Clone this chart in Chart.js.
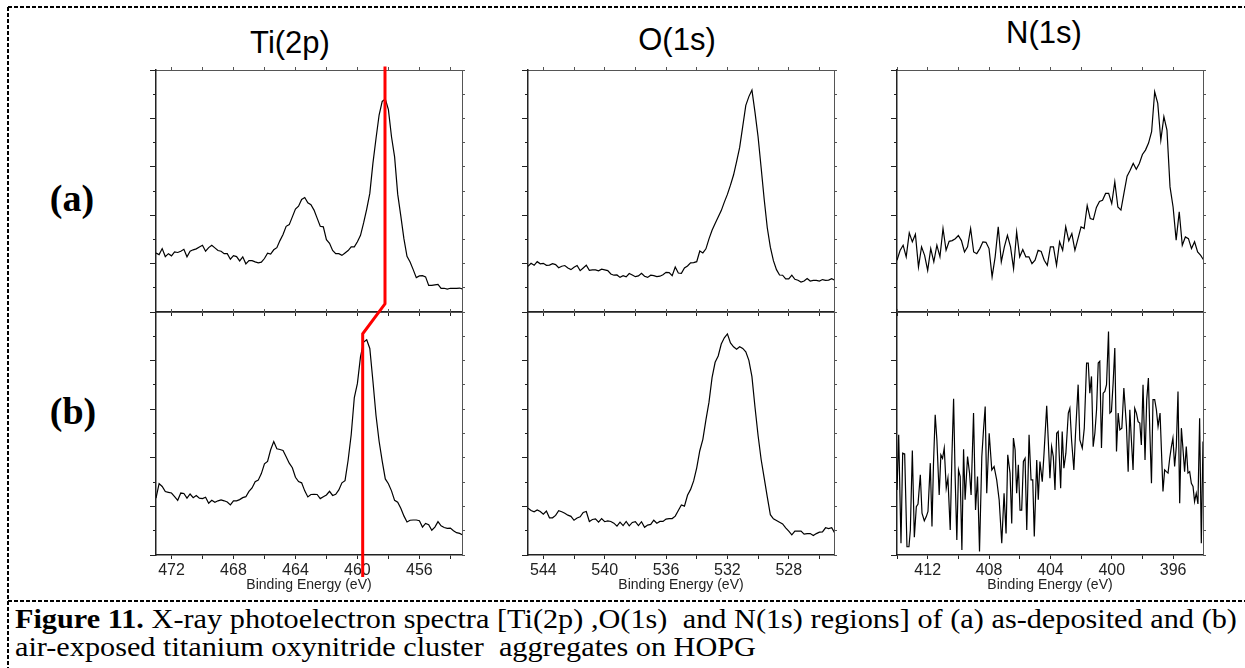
<!DOCTYPE html>
<html>
<head>
<meta charset="utf-8">
<script src="https://cdn.jsdelivr.net/npm/chart.js@4.4.1/dist/chart.umd.min.js"></script>
<style>
  body { margin: 0; width: 1245px; height: 668px; background: #fff; position: relative; overflow: hidden; font-family: "Liberation Sans", Arial, sans-serif; }
  .pane { position: absolute; }
  .ttl { position: absolute; font-size: 31px; color: #000; transform: translate(-50%, -50%); white-space: nowrap; }
  .lab { position: absolute; font: bold 38px "Liberation Serif", serif; transform: translate(-50%, -50%); }
  #cap { position: absolute; left: 15px; top: 605px; font: 27px/28px "Liberation Serif", serif; white-space: nowrap; color: #000; transform: scaleX(1.12); transform-origin: 0 0; }
  #cap .l1 { width: 1091px; text-align: justify; text-align-last: justify; white-space: normal; }
  svg { position: absolute; left: 0; top: 0; }
</style>
</head>
<body>
<svg width="1245" height="668">
  <line x1="8" y1="7" x2="1245" y2="7" stroke="#000" stroke-width="2" stroke-dasharray="4 2"/>
  <line x1="8" y1="7" x2="8" y2="668" stroke="#000" stroke-width="2" stroke-dasharray="4 2"/>
  <line x1="8" y1="601" x2="1245" y2="601" stroke="#000" stroke-width="2" stroke-dasharray="4 2"/>
</svg>
<div class="ttl" style="left:290px;top:43px">Ti(2p)</div>
<div class="ttl" style="left:677px;top:40px">O(1s)</div>
<div class="ttl" style="left:1044px;top:33px">N(1s)</div>
<div class="lab" style="left:72px;top:198px">(a)</div>
<div class="lab" style="left:73px;top:411px">(b)</div>
<div id="cap"><div class="l1"><b>Figure 11.</b> X-ray photoelectron spectra [Ti(2p) ,O(1s)&nbsp; and N(1s) regions] of (a) as-deposited and (b)</div><div>air-exposed titanium oxynitride cluster&nbsp; aggregates on HOPG</div></div>
<script>
// ---- data (binding energy in eV, intensity in arbitrary units, panel = 0..100) ----
const tiEnergy = [
  473.0,472.8,472.6,472.4,472.2,472.0,471.8,471.6,471.4,471.2,
  471.0,470.8,470.6,470.4,470.2,470.0,469.8,469.6,469.4,469.2,
  469.0,468.8,468.6,468.4,468.2,468.0,467.8,467.6,467.4,467.2,
  467.0,466.8,466.6,466.4,466.2,466.0,465.8,465.6,465.4,465.2,
  465.0,464.8,464.6,464.4,464.2,464.0,463.8,463.6,463.4,463.2,
  463.0,462.8,462.6,462.4,462.2,462.0,461.8,461.6,461.4,461.2,
  461.0,460.8,460.6,460.4,460.2,460.0,459.8,459.6,459.4,459.2,
  459.0,458.8,458.6,458.4,458.2,458.0,457.8,457.6,457.4,457.2,
  457.0,456.8,456.6,456.4,456.2,456.0,455.8,455.6,455.4,455.2,
  455.0,454.8,454.6,454.4,454.2,454.0,453.8,453.6,453.4,453.2
];
const tiA = [
  24.4,23.7,26.2,22.9,24.1,23.2,24.8,24.6,25.1,25.9,
  22.8,25.1,25.7,26.1,26.9,27.6,25.1,26.6,27.6,26.5,
  25.4,25.1,24.1,24.1,21.8,23.3,22.9,21.1,22.8,19.9,
  21.2,21.2,20.7,20.3,20.6,22.1,24.3,23.9,25.7,26.6,
  29.5,32.0,35.4,36.1,39.3,42.5,43.7,46.5,47.3,45.1,
  44.3,42.1,38.8,35.4,35.2,29.9,28.4,25.4,24.1,24.1,
  23.4,24.4,25.4,26.9,26.9,29.0,31.7,36.8,42.5,49.0,
  61.4,71.7,81.4,87.0,88.0,83.6,72.4,64.1,48.7,39.7,
  30.3,23.0,20.7,17.5,14.2,14.9,15.0,14.5,11.0,11.0,
  11.2,11.4,9.8,9.8,9.5,9.8,9.8,9.8,9.9,9.5
];
const tiB = [
  23.4,29.4,28.2,26.1,25.8,25.5,24.0,22.5,25.5,25.3,
  23.4,25.1,23.6,24.5,23.4,23.2,23.8,21.3,22.5,21.7,
  22.3,22.7,22.3,21.8,20.6,22.3,22.3,22.8,23.6,24.0,
  26.2,27.6,30.2,30.8,33.5,37.5,38.5,43.3,46.7,43.7,
  43.4,43.0,40.4,37.8,35.9,32.0,30.2,29.7,26.4,23.9,
  24.9,25.0,24.9,23.2,24.0,24.7,26.2,24.5,25.0,26.8,
  29.7,30.6,39.0,49.6,64.8,70.6,81.6,87.6,88.6,85.0,
  71.6,57.4,46.8,38.6,31.3,29.3,26.4,22.5,21.7,19.2,
  16.1,13.6,14.3,14.4,14.4,14.1,11.5,13.0,12.5,10.2,
  11.5,13.7,12.0,11.3,11.0,11.1,10.0,9.2,8.9,8.2
];

const oEnergy = [
  545.0,544.8,544.6,544.4,544.2,544.0,543.8,543.6,543.4,543.2,
  543.0,542.8,542.6,542.4,542.2,542.0,541.8,541.6,541.4,541.2,
  541.0,540.8,540.6,540.4,540.2,540.0,539.8,539.6,539.4,539.2,
  539.0,538.8,538.6,538.4,538.2,538.0,537.8,537.6,537.4,537.2,
  537.0,536.8,536.6,536.4,536.2,536.0,535.8,535.6,535.4,535.2,
  535.0,534.8,534.6,534.4,534.2,534.0,533.8,533.6,533.4,533.2,
  533.0,532.8,532.6,532.4,532.2,532.0,531.8,531.6,531.4,531.2,
  531.0,530.8,530.6,530.4,530.2,530.0,529.8,529.6,529.4,529.2,
  529.0,528.8,528.6,528.4,528.2,528.0,527.8,527.6,527.4,527.2,
  527.0,526.8,526.6,526.4,526.2,526.0,525.8,525.6,525.4,525.2,
  525.0
];
const oA = [
  18.9,20.1,19.3,20.8,19.9,20.1,19.3,19.4,20.0,19.6,
  18.3,18.9,19.2,18.2,17.5,18.5,19.2,17.1,18.2,19.3,
  17.2,17.4,17.4,17.0,17.7,17.4,17.1,15.7,15.2,15.3,
  14.3,15.0,14.5,15.9,15.3,14.6,14.9,16.0,14.8,14.3,
  15.2,15.0,14.6,14.8,15.4,16.4,16.3,15.0,18.6,16.1,
  16.0,18.2,19.0,20.3,20.4,20.8,25.2,24.4,26.1,30.2,
  33.8,36.6,39.3,41.9,45.4,48.6,52.4,56.6,62.1,68.0,
  76.7,85.4,89.0,91.7,82.5,72.4,59.6,46.5,34.8,26.8,
  21.2,17.5,15.3,15.2,13.7,13.7,15.2,13.5,13.1,12.4,
  12.8,13.8,12.8,13.1,13.1,12.8,13.4,13.1,13.2,13.8,
  13.1
];
const oB = [
  19.3,18.3,17.8,18.5,17.9,16.8,18.1,15.3,15.3,16.3,
  18.2,17.8,17.2,16.4,15.9,14.3,15.2,15.7,17.5,17.9,
  13.8,14.6,14.9,13.5,15.0,13.7,14.0,13.8,13.1,11.9,
  13.5,12.1,13.8,12.0,13.4,13.7,12.1,13.7,11.4,12.3,
  12.6,14.3,13.1,13.8,13.8,14.8,15.0,15.0,16.0,18.3,
  20.6,20.1,24.6,27.0,30.5,35.9,42.9,47.6,55.6,62.9,
  73.0,79.3,81.9,86.8,89.4,91.0,87.3,85.7,84.7,85.7,
  85.0,83.6,80.1,73.4,60.8,49.2,39.3,31.6,23.9,16.6,
  14.9,14.2,13.5,12.8,11.2,9.8,8.3,9.8,9.8,9.8,
  8.6,8.8,8.8,8.0,8.8,9.4,9.5,11.2,10.9,11.2,
  9.0
];

const nEnergyA = [
  414.0,413.8,413.6,413.4,413.2,413.0,412.8,412.6,412.4,412.2,
  412.0,411.8,411.6,411.4,411.2,411.0,410.8,410.6,410.4,410.2,
  410.0,409.8,409.6,409.4,409.2,409.0,408.8,408.6,408.4,408.2,
  408.0,407.8,407.6,407.4,407.2,407.0,406.8,406.6,406.4,406.2,
  406.0,405.8,405.6,405.4,405.2,405.0,404.8,404.6,404.4,404.2,
  404.0,403.8,403.6,403.4,403.2,403.0,402.8,402.6,402.4,402.2,
  402.0,401.8,401.6,401.4,401.2,401.0,400.8,400.6,400.4,400.2,
  400.0,399.8,399.6,399.4,399.2,399.0,398.8,398.6,398.4,398.2,
  398.0,397.8,397.6,397.4,397.2,397.0,396.8,396.6,396.4,396.2,
  396.0,395.8,395.6,395.4,395.2,395.0,394.8,394.6,394.4,394.2,
  394.0
];
const nA = [
  21.4,25.4,27.6,22.8,32.7,29.0,32.1,18.6,26.9,23.4,
  17.2,26.2,20.7,27.6,22.8,34.5,25.5,29.2,29.5,30.3,
  31.6,29.5,24.8,26.9,34.5,24.8,24.1,26.2,29.0,28.8,
  26.2,14.5,22.8,35.2,20.7,26.9,31.7,26.9,17.9,33.1,
  22.8,25.8,22.8,22.8,20.0,21.4,25.5,25.0,21.4,19.3,
  26.9,26.9,19.3,29.0,25.5,35.2,29.4,32.4,25.5,30.3,
  35.2,34.5,44.0,38.6,38.2,43.2,45.7,46.2,49.0,49.0,
  44.8,53.8,43.4,42.1,49.2,56.1,58.6,61.4,59.0,61.4,
  65.1,66.9,69.8,74.5,91.0,86.2,71.0,80.7,75.2,51.7,
  43.4,29.7,41.4,27.6,31.0,30.3,26.2,29.0,24.8,23.4,
  21.4
];

const nEnergyB = [
  414.00,413.89,413.74,413.63,413.50,413.35,413.22,413.13,413.00,412.87,
  412.74,412.63,412.48,412.37,412.22,412.09,411.98,411.83,411.72,411.62,
  411.51,411.40,411.25,411.14,411.03,410.92,410.79,410.68,410.53,410.42,
  410.31,410.21,410.10,409.99,409.88,409.77,409.66,409.56,409.40,409.27,
  409.17,409.01,408.88,408.75,408.62,408.47,408.36,408.25,408.15,407.99,
  407.82,407.67,407.50,407.34,407.17,407.02,406.89,406.78,406.63,406.52,
  406.41,406.30,406.20,406.09,405.98,405.87,405.76,405.65,405.54,405.39,
  405.26,405.15,405.05,404.89,404.79,404.68,404.53,404.42,404.24,404.14,
  404.03,403.92,403.81,403.70,403.59,403.49,403.33,403.23,403.12,402.99,
  402.83,402.73,402.62,402.47,402.36,402.19,402.08,401.92,401.79,401.64,
  401.53,401.43,401.32,401.21,401.10,400.99,400.88,400.78,400.67,400.56,
  400.45,400.34,400.21,400.12,400.02,399.91,399.80,399.69,399.58,399.47,
  399.34,399.21,399.04,398.93,398.82,398.72,398.61,398.50,398.39,398.28,
  398.17,398.07,397.96,397.83,397.72,397.61,397.52,397.41,397.31,397.20,
  397.09,396.98,396.85,396.66,396.55,396.44,396.33,396.22,396.11,396.01,
  395.90,395.79,395.68,395.57,395.46,395.36,395.25,395.14,395.03,394.92,
  394.81,394.70,394.60,394.49,394.38,394.27,394.16,394.05
];
const nB = [
  26.8,49.5,4.8,41.9,41.6,3.4,3.4,10.3,43.0,7.3,
  19.9,21.0,33.0,17.2,14.1,15.8,17.9,37.8,11.7,37.8,
  57.7,47.4,24.7,41.2,39.8,44.0,27.5,31.6,10.3,40.5,
  64.3,32.3,6.2,35.0,32.3,2.1,43.5,22.7,40.5,33.7,
  24.7,58.4,18.5,32.3,1.4,40.5,51.5,61.1,25.4,50.1,
  35.0,36.4,30.9,22.7,4.8,25.4,8.9,41.2,33.7,13.0,
  48.1,43.3,25.4,37.1,18.5,18.5,38.5,39.8,10.3,49.5,
  30.9,30.9,7.6,39.1,22.7,38.5,30.2,41.2,61.4,47.4,
  31.6,44.6,40.5,26.8,50.1,50.8,27.5,50.8,35.7,41.9,
  58.4,60.4,47.4,35.0,50.1,70.1,47.4,44.0,52.2,79.0,
  79.0,66.6,73.5,44.6,50.1,59.8,79.0,79.7,44.0,66.6,
  67.3,70.1,92.0,58.4,59.1,70.7,85.2,42.6,58.4,51.5,
  52.2,68.7,52.9,34.3,59.8,47.4,35.0,60.4,58.4,54.9,
  54.3,45.3,70.1,39.1,63.9,72.8,51.5,29.5,63.9,63.9,
  59.8,52.9,58.4,26.1,35.0,34.3,33.7,39.8,44.6,48.1,
  36.4,44.6,67.3,21.3,52.2,44.0,34.3,44.6,33.7,34.3,
  29.5,28.2,22.0,25.4,21.0,56.3,4.8,46.7
];

// Ti 2p shift marker: (a) peak -> (b) peak, y in stacked panel units (b: 0..100, a: 100..200)
const shiftEnergy = [458.22, 458.22, 459.66, 459.66];
const shiftLevel = [201.4, 103.6, 91.2, -9.1];

// x ranges (eV) of the three columns
const tiRange = [453.25, 473.0];
const oRange = [525.05, 545.0];
const nRange = [394.05, 414.0];

// ---- layout ----
Chart.defaults.font.family = '"Liberation Sans", Arial, sans-serif';
Chart.defaults.animation = false;
const M = 10;           // room around each plot box for the tick marks
const BOTTOM_B = 40;    // room for tick labels + axis title under the (b) row
const cols = { ti: [156, 462], o: [528, 834], n: [897, 1203] };
const rows = { a: [70, 312], b: [312, 555] };

function mount(left, top, w, h) {
  const div = document.createElement('div');
  div.className = 'pane';
  div.style.left = left + 'px'; div.style.top = top + 'px';
  div.style.width = w + 'px'; div.style.height = h + 'px';
  const cv = document.createElement('canvas');
  cv.width = w; cv.height = h;
  div.appendChild(cv);
  document.body.appendChild(div);
  return cv;
}

const pts = (xs, ys) => xs.map((x, i) => ({ x, y: ys[i] }));

function tickGrid(len, color) {
  return { drawOnChartArea: false, drawTicks: true, tickLength: len, tickColor: color, tickWidth: 1 };
}

function panel(col, row, energy, inten, range) {
  const [x0, x1] = cols[col], [y0, y1] = rows[row];
  const isB = row === 'b';
  const bottom = isB ? BOTTOM_B : M;
  const cv = mount(x0 - M, y0 - M, x1 - x0 + 2 * M, y1 - y0 + M + bottom);
  new Chart(cv, {
    type: 'scatter',
    data: {
      datasets: [{
        data: pts(energy, inten),
        showLine: true, borderColor: '#000', borderWidth: 1.2,
        pointRadius: 0, tension: 0
      }]
    },
    options: {
      responsive: false,
      devicePixelRatio: 1,
      layout: { padding: 0 },
      plugins: { legend: { display: false }, tooltip: { enabled: false } },
      scales: {
        x: {
          type: 'linear', position: 'bottom', min: range[0], max: range[1], reverse: true,
          border: { color: '#222', width: 1.5 },
          grid: tickGrid(4, '#222'),
          ticks: {
            display: isB, stepSize: 2, includeBounds: false, autoSkip: false, maxRotation: 0,
            padding: 2, color: '#222', font: { size: 16 },
            callback: v => (Math.round(v) % 4 === 0 ? String(Math.round(v)) : '')
          },
          title: { display: isB, text: 'Binding Energy (eV)', color: '#222', font: { size: 14 }, padding: { top: 0, bottom: 1 } },
          afterFit: s => { s.height = bottom; }
        },
        xt: {
          type: 'linear', position: 'top', min: range[0], max: range[1], reverse: true,
          border: { color: '#555', width: 1 },
          grid: tickGrid(3, '#555'),
          ticks: { display: false, stepSize: 2, includeBounds: false, autoSkip: false },
          afterFit: s => { s.height = M; }
        },
        // minor y ticks (zero width, sits right on the plot edge)
        ym: {
          type: 'linear', position: 'left', min: 0, max: 100,
          border: { display: false },
          grid: tickGrid(3, '#222'),
          ticks: { display: false, stepSize: 10 },
          afterFit: s => { s.width = 0; }
        },
        // major y ticks
        y: {
          type: 'linear', position: 'left', min: 0, max: 100,
          border: { color: '#222', width: 1.5 },
          grid: tickGrid(6, '#222'),
          ticks: { display: false, stepSize: 20 },
          afterFit: s => { s.width = M; }
        },
        yr: {
          type: 'linear', position: 'right', min: 0, max: 100,
          border: { color: '#555', width: 1 },
          grid: tickGrid(3, '#555'),
          ticks: { display: false, stepSize: 10 },
          afterFit: s => { s.width = M; }
        }
      }
    }
  });
}

panel('ti', 'a', tiEnergy, tiA, tiRange);
panel('o', 'a', oEnergy, oA, oRange);
panel('n', 'a', nEnergyA, nA, nRange);
panel('ti', 'b', tiEnergy, tiB, tiRange);
panel('o', 'b', oEnergy, oB, oRange);
panel('n', 'b', nEnergyB, nB, nRange);

// red marker across both Ti panels
(function () {
  const [x0, x1] = cols.ti;
  const padTop = 6, padBottom = 25;
  const top = rows.a[0] - padTop, h = rows.b[1] - rows.a[0] + padTop + padBottom;
  const cv = mount(x0, top, x1 - x0, h);
  new Chart(cv, {
    type: 'scatter',
    data: {
      datasets: [{
        data: pts(shiftEnergy, shiftLevel),
        showLine: true, borderColor: '#ff0000', borderWidth: 3,
        pointRadius: 0, tension: 0, clip: false
      }]
    },
    options: {
      responsive: false,
      devicePixelRatio: 1,
      layout: { padding: { top: padTop, bottom: padBottom, left: 0, right: 0 } },
      plugins: { legend: { display: false }, tooltip: { enabled: false } },
      scales: {
        x: { type: 'linear', display: false, min: tiRange[0], max: tiRange[1], reverse: true },
        y: { type: 'linear', display: false, min: 0, max: 200 }
      }
    }
  });
})();
</script>
</body>
</html>
